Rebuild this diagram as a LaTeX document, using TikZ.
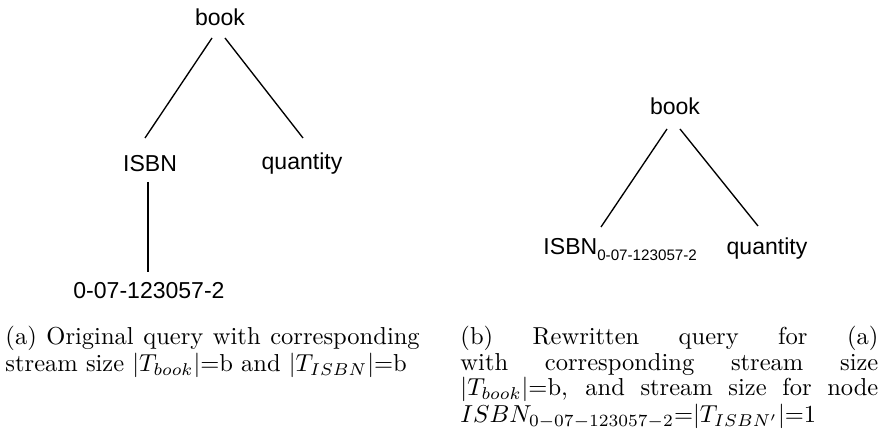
\documentclass[tikz,border=0pt]{standalone}
\usepackage{fontspec}
\newfontfamily\arialfont{Liberation Sans}
\usetikzlibrary{calc}
\hbadness=10000
\begin{document}
\begin{tikzpicture}[x=0.408pt,y=-0.408pt,
  lbl/.style={font=\arialfont\fontsize{9.4}{11}\selectfont, inner sep=0pt, anchor=base},
  edge/.style={line width=0.55pt, black},
  captext/.style={font=\fontsize{10}{8.78}\selectfont, align=justify, inner sep=0pt, anchor=north west}]
\useasboundingbox (0,0) rectangle (890,442);
% left tree
\node[lbl] (bkA) at (220,25.5) {book};
\node[lbl] (isA) at (150,172) {ISBN};
\node[lbl] (qA) at (302,170) {quantity};
\node[lbl] (nA) at (149,299) {0-07-123057-2};
\draw[edge] ($(bkA.base)+(-8,12.5)$) -- ($(isA.base)+(-5,-34)$);
\draw[edge] ($(bkA.base)+(5,12.5)$) -- ($(qA.base)+(1,-32)$);
\draw[edge] ($(isA.base)+(-2,10)$) -- ($(nA.base)+(-1,-27)$);
% right tree
\node[lbl] (bkB) at (675,115) {book};
\node[lbl, anchor=base west] (isB) at (543,255) {ISBN\raisebox{-2.3pt}{\fontsize{6.2}{7}\selectfont 0-07-123057-2}};
\node[lbl] (qB) at (767,255) {quantity};
\draw[edge] ($(bkB.base)+(-8,14)$) -- ($(isB.base west)+(58,-28)$);
\draw[edge] ($(bkB.base)+(5,14)$) -- ($(qB.base)+(-9,-29)$);
% captions
\node[captext, text width=169pt] (capA) at (5,325.6)
  {\lineskiplimit=-20pt\relax (a) Original query with corresponding\linebreak stream size $|T_{book}|$=b and $|T_{ISBN}|$=b};
\node[captext, text width=170.5pt] (capB) at (460,325.6)
  {\lineskiplimit=-20pt\relax (b) Rewritten query for (a)\linebreak with corresponding stream size\linebreak $|T_{book}|$=b, and stream size for node\linebreak $ISBN_{0-07-123057-2}$=$|T_{ISBN'}|$=1};
\end{tikzpicture}
\end{document}
